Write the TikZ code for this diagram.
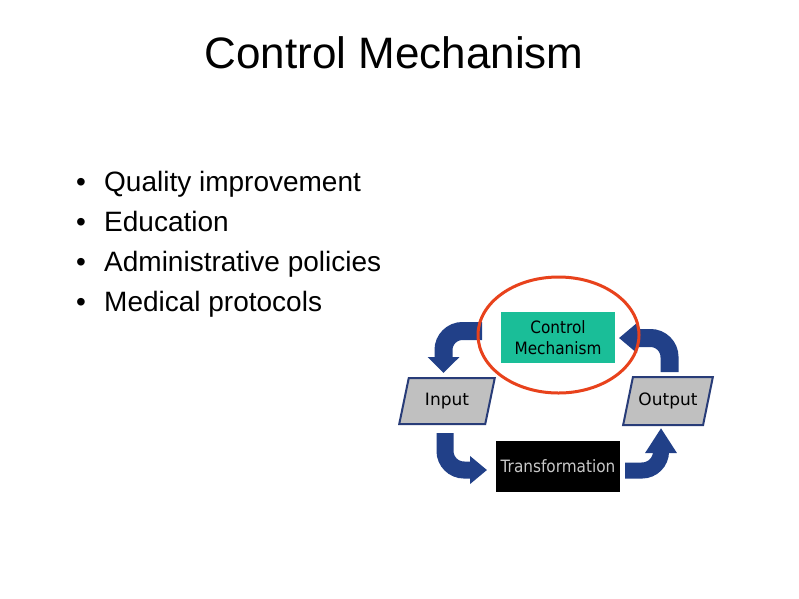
\documentclass[tikz,border=0pt]{standalone}
\usepackage{fontspec}
\setmainfont{Liberation Sans}
\newfontfamily\tahfont[FakeStretch=0.9]{DejaVu Sans}
\newfontfamily\parafont{DejaVu Sans}
\usetikzlibrary{shapes.geometric,arrows.meta}
\definecolor{arrowblue}{RGB}{33,64,136}
\definecolor{edgeblue}{RGB}{40,60,120}
\definecolor{boxteal}{RGB}{26,190,152}
\definecolor{paragray}{RGB}{192,192,192}
\definecolor{ringred}{RGB}{232,66,28}
\definecolor{transgray}{RGB}{200,200,200}
\begin{document}
\begin{tikzpicture}[x=1pt,y=-1pt,
  bigarrow/.style={draw=arrowblue, line width=#1, rounded corners=19pt},
  bullettext/.style={anchor=base west, inner sep=0pt, font=\fontsize{28}{34}\selectfont},
  bulletdot/.style={anchor=base, inner sep=0pt, font=\fontsize{28}{34}\selectfont},
  para/.style={trapezium, trapezium stretches=true, draw=edgeblue, line width=2pt,
    fill=paragray, inner sep=0pt, font=\parafont\fontsize{17}{21}\selectfont},
  smallbox/.style={rectangle, inner sep=0pt, font=\tahfont\fontsize{17}{21}\selectfont, align=center}]
\useasboundingbox[fill=white] (0,0) rectangle (799,598);

% title
\node[anchor=base, inner sep=0pt, font=\fontsize{44}{53}\selectfont] (title) at (394,68) {Control Mechanism};

% bullets
\node[bulletdot] (b1) at (81,191) {•};
\node[bullettext] (t1) at (104,191) {Quality improvement};
\node[bulletdot] (b2) at (81,231) {•};
\node[bullettext] (t2) at (104,231) {Education};
\node[bulletdot] (b3) at (81,271) {•};
\node[bullettext] (t3) at (104,271) {Administrative policies};
\node[bulletdot] (b4) at (81,311) {•};
\node[bullettext] (t4) at (104,311) {Medical protocols};

% arrows
\coordinate (a1s) at (482,331);
\coordinate (a1e) at (443.5,373);
\draw[bigarrow=18pt, -{Triangle[width=31pt,length=16pt]}] (a1s) -| (a1e);
\coordinate (a2s) at (669.5,372);
\coordinate (a2e) at (619,338);
\draw[bigarrow=18pt, -{Triangle[width=29pt,length=18pt]}] (a2s) |- (a2e);
\coordinate (a3s) at (445,433);
\coordinate (a3e) at (487,470);
\draw[bigarrow=17pt, -{Triangle[width=27pt,length=17pt]}] (a3s) |- (a3e);
\coordinate (a4s) at (625,470.5);
\coordinate (a4e) at (661,428);
\draw[bigarrow=16pt, -{Triangle[width=30pt,length=25pt]}] (a4s) -| (a4e);

% parallelograms
\node[para, trapezium left angle=71, trapezium right angle=109,
  minimum width=96pt, minimum height=46pt] (input) at (447,401) {Input};
\node[para, trapezium left angle=63, trapezium right angle=117,
  minimum width=90pt, minimum height=48pt] (output) at (668,401) {Output};

% boxes
\node[smallbox, fill=boxteal, text=black, minimum width=114pt, minimum height=51pt] (ctrl) at (558,337.5) {Control\\Mechanism};
\node[smallbox, fill=black, text=transgray, minimum width=124pt, minimum height=51pt] (trans) at (558,466.5) {Transformation};

% highlight ring
\node[ellipse, draw=ringred, line width=3pt, minimum width=161pt, minimum height=116pt, inner sep=0pt] (ring) at (558.5,335) {};
\end{tikzpicture}
\end{document}
